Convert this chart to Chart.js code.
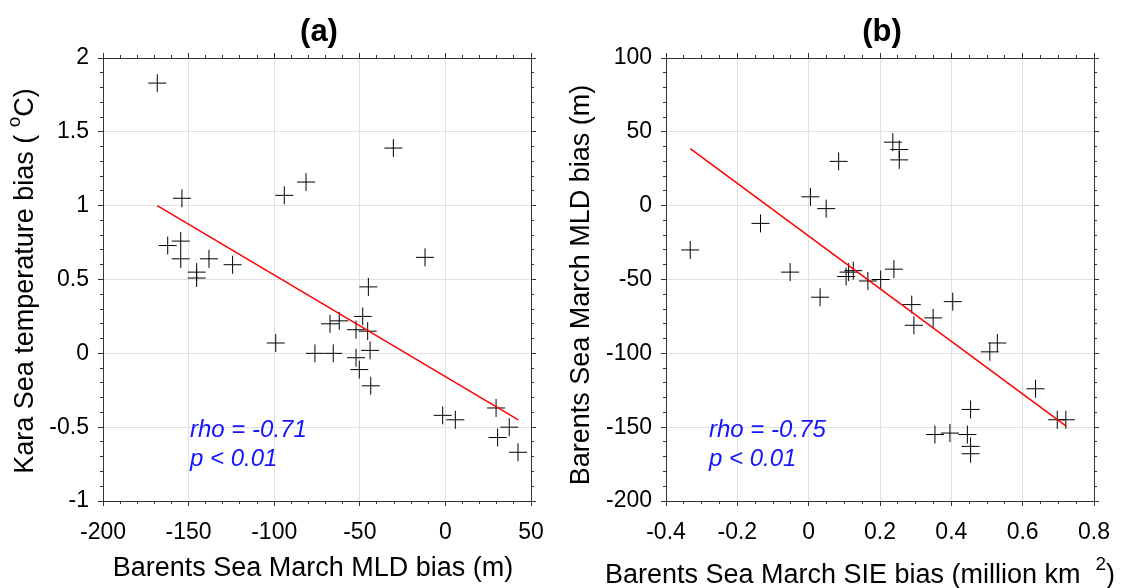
<!DOCTYPE html>
<html>
<head>
<meta charset="utf-8">
<script src="https://cdn.jsdelivr.net/npm/chart.js@4.4.0/dist/chart.umd.min.js"></script>
<style>
  body { margin: 0; background: #fff; }
  #wrap { position: relative; width: 1137px; height: 588px; }
  canvas { position: absolute; top: 0; }
</style>
</head>
<body>
<div id="wrap">
  <canvas id="chartA" width="568" height="588" style="left:0;width:568px;height:588px"></canvas>
  <canvas id="chartB" width="569" height="588" style="left:568px;width:569px;height:588px"></canvas>
</div>
<script>
// panel (a): Barents MLD bias vs Kara Sea temperature bias
const mldA = [-168.3, -153.9, -94.1, -81.4, -162.2, -154.6, -154.6, -138.1, -124.3, -145.3, -145.3,
  -30.4, -11.9, -45.0, -99.1, -76.2, -65.5, -67.4, -62.0, -48.3, -52.2, -45.4, -44.0, -52.2, -50.3,
  -43.6, -1.6, 5.8, 29.6, 30.5, 37.3, 42.4];
const tempA = [1.83, 1.05, 1.07, 1.16, 0.73, 0.76, 0.64, 0.64, 0.60, 0.55, 0.51,
  1.39, 0.65, 0.45, 0.07, 0.0, 0.0, 0.20, 0.22, 0.25, 0.16, 0.15, 0.02, -0.03, -0.11,
  -0.22, -0.42, -0.45, -0.37, -0.57, -0.50, -0.67];
const fitAx = [-168.3, 42.6];
const fitAy = [1.0, -0.45];

// panel (b): Barents SIE bias vs Barents MLD bias
const sieB = [-0.332, -0.135, 0.005, 0.049, 0.084, -0.052, 0.032, 0.105, 0.112, 0.125, 0.166,
  0.202, 0.239, 0.236, 0.254, 0.254, 0.289, 0.295, 0.349, 0.404, 0.508, 0.529, 0.636, 0.697,
  0.721, 0.454, 0.354, 0.396, 0.445, 0.454, 0.454];
const mldB = [-30, -12, 6, -2, 30, -45, -62, -48, -45, -44, -51,
  -50, -43, 43, 38, 31, -67, -81, -76, -65, -99, -93, -124, -145,
  -145, -138, -155, -154, -155, -163, -168];
const fitBx = [-0.332, 0.723];
const fitBy = [38.6, -149.4];

const ticksAx = [-200, -150, -100, -50, 0, 50];
const ticksAy = [-1, -0.5, 0, 0.5, 1, 1.5, 2];
const ticksBx = [-0.4, -0.2, 0, 0.2, 0.4, 0.6, 0.8];
const ticksBy = [-200, -150, -100, -50, 0, 50, 100];

const FONT = "'Liberation Sans', Arial, Helvetica, sans-serif";
const axisCol = '#333';
const gridCol = '#e0e0e0';

const fmt = v => String(+v.toFixed(2));

function pair(xs, ys) {
  return xs.map((x, i) => ({ x: x, y: ys[i] }));
}

// one visible axis with labels + one hidden copy for minor ticks, on each side
function sideAxes(prefix, pos, range, major, minor, size, labels) {
  const horiz = pos === 'top' || pos === 'bottom';
  const fit = s => { if (horiz) s.height = size; else s.width = size; };
  const base = { type: 'linear', position: pos, min: range[0], max: range[1] };
  const main = {
    ...base, weight: 1,
    ticks: {
      display: labels, stepSize: major, autoSkip: false, maxRotation: 0,
      color: '#000', font: { family: FONT, size: 23 }, padding: horiz ? 13 : 9,
      callback: v => fmt(v)
    },
    grid: {
      drawOnChartArea: labels, color: gridCol, lineWidth: 1,
      tickColor: axisCol, tickLength: 5
    },
    border: { display: true, color: axisCol, width: 1 },
    afterFit: fit
  };
  const min = {
    ...base, weight: 0,
    ticks: { display: false, stepSize: minor, autoSkip: false },
    grid: { drawOnChartArea: false, tickColor: axisCol, tickLength: 3 },
    border: { display: false },
    afterFit: s => { if (horiz) s.height = 0; else s.width = 0; }
  };
  const out = {};
  out[prefix] = main;
  out[prefix + 'm'] = min;
  return out;
}

function drawRich(ctx, parts, size, x, y) {
  // parts alternate: normal text, superscript, normal text ...
  let w = 0;
  const widths = parts.map((p, i) => {
    ctx.font = (i % 2 ? size * 0.7 : size) + 'px ' + FONT;
    const m = ctx.measureText(p).width;
    w += m;
    return m;
  });
  let cx = x - w / 2;
  parts.forEach((p, i) => {
    const sup = i % 2 === 1;
    ctx.font = (sup ? size * 0.7 : size) + 'px ' + FONT;
    ctx.textAlign = 'left';
    ctx.textBaseline = 'middle';
    ctx.fillText(p, cx, sup ? y - size * 0.4 : y);
    cx += widths[i];
  });
}

const panelText = {
  id: 'panelText',
  afterDraw(chart, args, o) {
    const ctx = chart.ctx;
    const ca = chart.chartArea;
    ctx.save();
    ctx.fillStyle = '#000';
    ctx.font = 'bold 31px ' + FONT;
    ctx.textAlign = 'center';
    ctx.textBaseline = 'middle';
    ctx.fillText(o.title, (ca.left + ca.right) / 2 + 2, 32);

    drawRich(ctx, o.xTitle, 27, o.xTitlePos[0], o.xTitlePos[1]);

    ctx.save();
    ctx.translate(o.yTitlePos[0], o.yTitlePos[1]);
    ctx.rotate(-Math.PI / 2);
    drawRich(ctx, o.yTitle, 27, 0, 0);
    ctx.restore();

    ctx.fillStyle = '#1414ff';
    ctx.font = 'italic 24px ' + FONT;
    ctx.textAlign = 'left';
    ctx.textBaseline = 'alphabetic';
    ctx.fillText(o.stats[0], o.statsPos[0], o.statsPos[1]);
    ctx.fillText(o.stats[1], o.statsPos[0], o.statsPos[1] + 29);
    ctx.restore();
  }
};

function makeChart(id, pts, fit, xr, yr, xMaj, xMin, yMaj, yMin, leftW, rightPad, text) {
  return new Chart(document.getElementById(id), {
    type: 'scatter',
    data: {
      datasets: [
        {
          data: fit, showLine: true, borderColor: '#ff0000', borderWidth: 1.5,
          pointRadius: 0, xAxisID: 'x', yAxisID: 'y'
        },
        {
          data: pts, pointStyle: 'cross', pointRadius: 9, pointHoverRadius: 9,
          borderColor: '#000', borderWidth: 1, xAxisID: 'x', yAxisID: 'y'
        }
      ]
    },
    options: {
      responsive: false,
      animation: false,
      layout: { padding: { top: 58, right: rightPad, left: 0, bottom: 0 } },
      scales: {
        ...sideAxes('x', 'bottom', xr, xMaj, xMin, 87, true),
        ...sideAxes('xt', 'top', xr, xMaj, xMin, 0, false),
        ...sideAxes('y', 'left', yr, yMaj, yMin, leftW, true),
        ...sideAxes('yr', 'right', yr, yMaj, yMin, 0, false)
      },
      plugins: {
        legend: { display: false },
        tooltip: { enabled: false },
        panelText: text
      }
    },
    plugins: [panelText]
  });
}

makeChart('chartA', pair(mldA, tempA), pair(fitAx, fitAy),
  [ticksAx[0], ticksAx[ticksAx.length - 1]], [ticksAy[0], ticksAy[ticksAy.length - 1]],
  50, 10, 0.5, 0.1, 103, 37, {
    title: '(a)',
    xTitle: ['Barents Sea March MLD bias (m)'],
    xTitlePos: [313, 569],
    yTitle: ['Kara Sea temperature bias ( ', 'o', 'C)'],
    yTitlePos: [26, 281],
    stats: ['rho = -0.71', 'p < 0.01'],
    statsPos: [190, 437]
  });

makeChart('chartB', pair(sieB, mldB), pair(fitBx, fitBy),
  [ticksBx[0], ticksBx[ticksBx.length - 1]], [ticksBy[0], ticksBy[ticksBy.length - 1]],
  0.2, 0.05, 50, 10, 98, 43, {
    title: '(b)',
    xTitle: ['Barents Sea March SIE bias (million km  ', '2', ')'],
    xTitlePos: [292, 576],
    yTitle: ['Barents Sea March MLD bias (m)'],
    yTitlePos: [14, 285],
    stats: ['rho = -0.75', 'p < 0.01'],
    statsPos: [141, 437]
  });
</script>
</body>
</html>
